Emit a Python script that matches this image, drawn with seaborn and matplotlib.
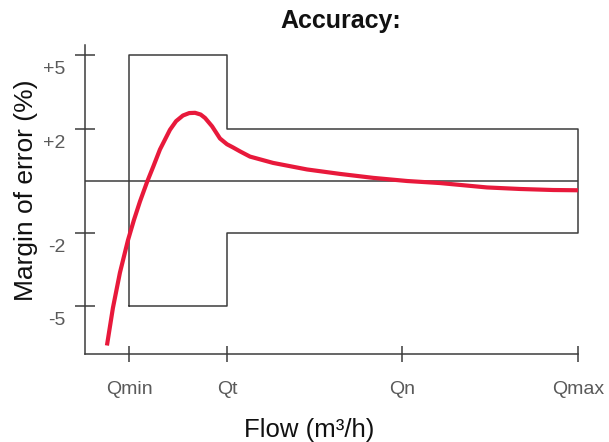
import numpy as np
import matplotlib
matplotlib.use("Agg")
import matplotlib.pyplot as plt
import matplotlib.transforms as mtransforms
import seaborn as sns

sns.set_theme(style="white")
plt.rcParams['font.family'] = ['Liberation Sans', 'DejaVu Sans']

# flow axis (arbitrary units) and its named ticks
flow_ticks = [4.42, 10, 20, 30]
flow_labels = ["Qmin", "Qt", "Qn", "Qmax"]

# margin of error ticks
err_ticks = [5, 2, -2, -5]
err_labels = ["+5", "+2", "-2", "-5"]

# tolerance envelope (outline)
env_x = [4.42, 4.42, 10, 10, 30, 30, 10, 10, 4.42]
env_y = [-5, 5, 5, 2, 2, -2, -2, -5, -5]

# measured error curve
curve_x = [3.16, 3.50, 3.90, 4.36, 4.70, 5.04, 5.44, 5.80, 6.18, 6.75, 7.10, 7.49,
           7.85, 8.18, 8.50, 8.75, 9.15, 9.60, 10.0, 10.34, 10.74, 11.31, 12.62, 14.56,
           16.44, 18.32, 20.26, 22.14, 24.81, 26.70, 28.58, 30.0]
curve_y = [-6.58, -5.08, -3.64, -2.31, -1.51, -0.80, -0.05, 0.55, 1.20, 1.95, 2.30, 2.53,
           2.63, 2.64, 2.57, 2.43, 2.09, 1.62, 1.40, 1.28, 1.13, 0.93, 0.69, 0.44,
           0.27, 0.12, 0.0, -0.08, -0.25, -0.31, -0.35, -0.36]

# slightly stretched inner band, as in the original drawing
scale_v = [-20, -5, -2, 0, 2, 5, 20]
scale_p = [-500, -125, -51.5, 0, 52.5, 126, 501]

fig = plt.figure(figsize=(6.09, 4.42), dpi=100)
ax = fig.add_axes([85 / 609, 88 / 442, 493 / 609, 309 / 442])
ax.set_yscale("function", functions=(lambda v: np.interp(v, scale_v, scale_p),
                                     lambda p: np.interp(p, scale_p, scale_v)))

edge = "#3c3c3c"
ax.plot(env_x, env_y, color=edge, lw=1.1, clip_on=False, zorder=2)
ax.axhline(0, color=edge, lw=1.1, zorder=2)
sns.lineplot(x=curve_x, y=curve_y, sort=False, estimator=None, color="#e8193b",
             lw=3.0, ax=ax, zorder=3, solid_capstyle="butt", solid_joinstyle="round")

ax.set_xlim(1.91, 30)
ax.set_ylim(-6.92, 5.4)

for s in ["top", "right"]:
    ax.spines[s].set_visible(False)
for s in ["left", "bottom"]:
    ax.spines[s].set_color(edge)
    ax.spines[s].set_linewidth(1.1)

ax.set_xticks(flow_ticks, flow_labels)
ax.set_yticks(err_ticks, err_labels)
ax.tick_params(axis="x", bottom=True, direction="inout", length=11.5, width=1.1, color=edge,
               labelsize=14, labelcolor="#5a5a5a", pad=14)
ax.tick_params(axis="y", left=True, direction="inout", length=13.7, width=1.1, color=edge,
               labelsize=14, labelcolor="#5a5a5a", pad=7)
shift = mtransforms.ScaledTranslation(0, -0.125, fig.dpi_scale_trans)
for lab in ax.get_yticklabels():
    lab.set_transform(lab.get_transform() + shift)

ax.set_xlabel("Flow (m³/h)", fontsize=18.5, color="#111111")
ax.xaxis.set_label_coords((309 - 85) / 493, (354 - 418) / 309)
ax.xaxis.label.set_va("top")
ax.set_ylabel("Margin of error (%)", fontsize=19, color="#111111")
ax.yaxis.set_label_coords((38 - 85) / 493, (354 - 190) / 309)

fig.text(341 / 609, 1 - 21 / 442, "Accuracy:", fontsize=18, fontweight="bold",
         ha="center", va="center", color="#111111")

fig.savefig("out.png", dpi=100)
